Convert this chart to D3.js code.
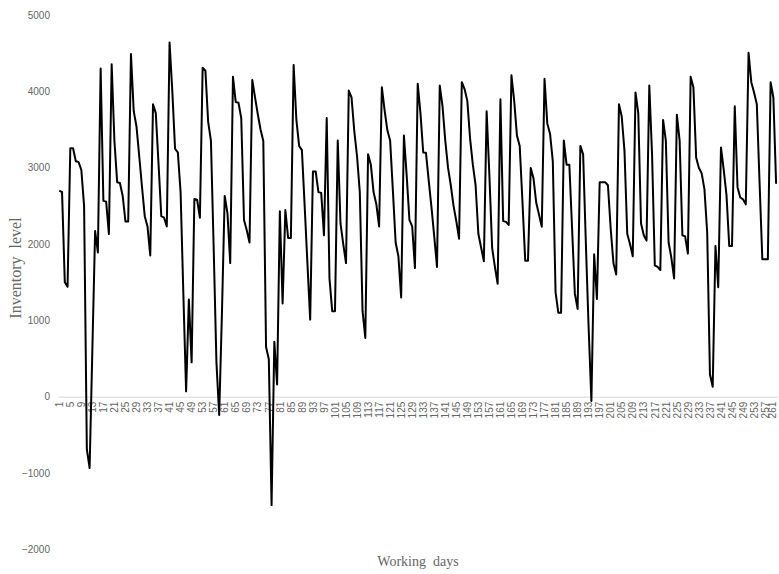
<!DOCTYPE html>
<html>
<head>
<meta charset="utf-8">
<script src="https://cdn.jsdelivr.net/npm/d3@7"></script>
<style>
  html, body { margin: 0; padding: 0; background: #ffffff; }
  svg { display: block; }
  .tick text { font-family: "Liberation Sans", Arial, sans-serif; }
</style>
</head>
<body>
<svg id="chart" width="779" height="574"></svg>
<script>
// Daily inventory level over 261 working days
const inventory = [
  2700, 2680, 1500, 1440, 3255, 3255, 3085, 3075, 2970, 2500,
  -690, -935, 620, 2170, 1890, 4300, 2565, 2555, 2130, 4355,
  3350, 2810, 2800, 2630, 2295, 2295, 4490, 3740, 3540, 3150,
  2750, 2365, 2230, 1850, 3830, 3715, 3050, 2365, 2345, 2230,
  4640, 4000, 3245, 3200, 2680, 1350, 70, 1275, 450, 2590,
  2580, 2345, 4310, 4270, 3600, 3355, 1950, 450, -240, 1100,
  2630, 2405, 1750, 4190, 3860, 3850, 3650, 2315, 2180, 2020,
  4150, 3920, 3700, 3500, 3350, 650, 490, -1420, 720, 160,
  2430, 1220, 2445, 2080, 2080, 4345, 3625, 3285, 3230, 2500,
  1750, 1010, 2950, 2950, 2680, 2670, 2115, 3650, 1550, 1120,
  1120, 3355, 2270, 2000, 1750, 4010, 3920, 3480, 3150, 2680,
  1120, 770, 3175, 3040, 2680, 2520, 2230, 4055, 3750, 3490,
  3355, 2700, 2020, 1840, 1300, 3420, 2900, 2315, 2230, 1685,
  4100, 3715, 3200, 3195, 2830, 2480, 2100, 1700, 4075, 3805,
  3355, 3000, 2770, 2500, 2300, 2070, 4120, 4030, 3875, 3380,
  3040, 2770, 2135, 1955, 1775, 3740, 2900, 1950, 1700, 1480,
  3895, 2300, 2290, 2250, 4210, 3875, 3420, 3285, 2550, 1780,
  1780, 2995, 2860, 2540, 2385, 2225, 4165, 3580, 3445, 3085,
  1370, 1100, 1100, 3355, 3040, 3040, 2200, 1350, 1150, 3285,
  3175, 2000, 900, -55, 1865, 1280, 2810, 2810, 2810, 2770,
  2200, 1750, 1600, 3830, 3670, 3220, 2135, 2000, 1840, 3985,
  3715, 2270, 2115, 2045, 4075, 3175, 1720, 1700, 1660, 3625,
  3355, 2020, 1820, 1550, 3695, 3355, 2115, 2100, 1875, 4190,
  4055, 3130, 2995, 2925, 2720, 2150, 290, 130, 1975, 1435,
  3265, 2970, 2640, 1975, 1975, 3805, 2745, 2610, 2585, 2520,
  4505, 4120, 3985, 3830, 2800, 1800, 1800, 1800, 4120, 3920,
  2790
];

// Working-day categories 1..261
const days = inventory.map((_, i) => i + 1);
// Category labels shown along the axis: every fourth day
const dayLabels = days.filter(d => (d - 1) % 4 === 0);
// Value axis ticks
const levelTicks = [-2000, -1000, 0, 1000, 2000, 3000, 4000, 5000];

const width = 779;
const svg = d3.select("#chart");
const labelColor = "#666666";

const x = d3.scalePoint()
  .domain(days)
  .range([57.9, 777.5])
  .padding(0.5);

const y = d3.scaleLinear()
  .domain([-2000, 5000])
  .range([549.4, 15]);

// Value axis labels (no axis line)
const yAxis = svg.append("g")
  .attr("transform", "translate(50,0)")
  .call(d3.axisLeft(y).tickValues(levelTicks).tickSize(0).tickPadding(0).tickFormat(d3.format("d")));
yAxis.select(".domain").remove();
yAxis.selectAll("text")
  .attr("fill", labelColor)
  .style("font-size", "10px");

// Category axis along the zero line
const xAxis = svg.append("g")
  .attr("transform", `translate(0,${y(0)})`)
  .call(d3.axisBottom(x).tickValues(dayLabels).tickSize(0).tickSizeOuter(0));
xAxis.select(".domain")
  .attr("stroke", "#d9d9d9")
  .attr("stroke-width", 1);
xAxis.selectAll("text")
  .attr("fill", labelColor)
  .style("font-size", "10px")
  .style("text-anchor", "end")
  .attr("transform", "rotate(-90)")
  .attr("x", -5)
  .attr("y", 0)
  .attr("dy", "0.32em");

// Keep the rightmost rotated label inside the drawing edge
xAxis.selectAll(".tick text").each(function () {
  const box = this.getBoundingClientRect();
  const overflow = box.right - (width - 1);
  if (overflow > 0) d3.select(this).attr("y", -overflow);
});

// Inventory line
const line = d3.line()
  .x((d, i) => x(days[i]))
  .y(d => y(d));

svg.append("path")
  .datum(inventory)
  .attr("fill", "none")
  .attr("stroke", "#000000")
  .attr("stroke-width", 2)
  .attr("stroke-linejoin", "round")
  .attr("d", line);

// Axis titles
svg.append("text")
  .attr("transform", "translate(21,268) rotate(-90)")
  .attr("text-anchor", "middle")
  .attr("fill", labelColor)
  .style("font-family", "'Liberation Serif', 'Times New Roman', serif")
  .style("font-size", "16px")
  .style("white-space", "pre")
  .text("Inventory  level");

svg.append("text")
  .attr("x", 418)
  .attr("y", 566)
  .attr("text-anchor", "middle")
  .attr("fill", labelColor)
  .style("font-family", "'Liberation Serif', 'Times New Roman', serif")
  .style("font-size", "14px")
  .style("white-space", "pre")
  .text("Working  days");
</script>
</body>
</html>
